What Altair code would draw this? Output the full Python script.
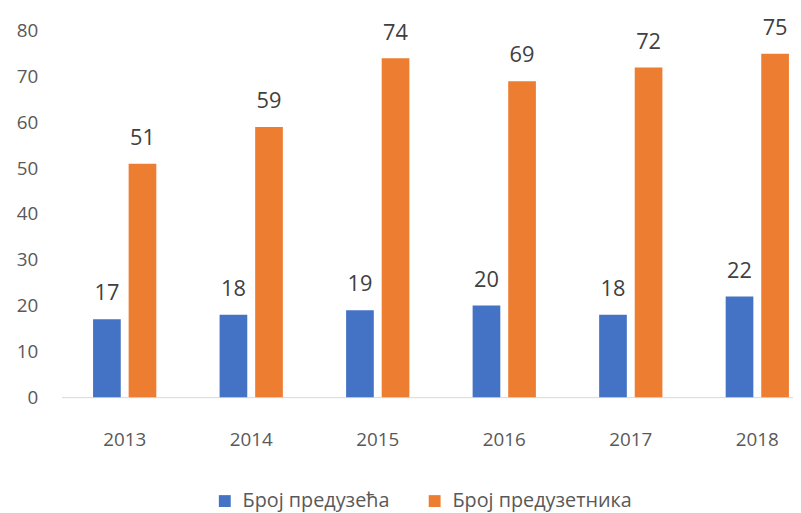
import altair as alt
import pandas as pd

years = ["2013", "2014", "2015", "2016", "2017", "2018"]
series_names = ["Број предузећа", "Број предузетника"]
firms = [17, 18, 19, 20, 18, 22]
entrepreneurs = [51, 59, 74, 69, 72, 75]
colors = ["#4472C4", "#ED7D31"]

rows = []
for i, y in enumerate(years):
    rows.append({"year": y, "series": series_names[0], "value": firms[i]})
    rows.append({"year": y, "series": series_names[1], "value": entrepreneurs[i]})
df = pd.DataFrame(rows)

FONT = "Open Sans"

base = alt.Chart(df).encode(
    x=alt.X(
        "year:N",
        sort=years,
        title=None,
        scale=alt.Scale(paddingInner=0.5, paddingOuter=0.141, align=0.886),
        axis=alt.Axis(
            labelAngle=0,
            ticks=False,
            domain=True,
            domainColor="#d9d9d9",
            domainWidth=1,
            grid=False,
            labelPadding=34,
            labelFont=FONT,
            labelFontSize=19,
            labelColor="#595959",
        ),
    ),
    xOffset=alt.XOffset(
        "series:N",
        sort=series_names,
        scale=alt.Scale(paddingInner=0.222, paddingOuter=0),
    ),
    y=alt.Y(
        "value:Q",
        title=None,
        scale=alt.Scale(domain=[0, 80], nice=False),
        axis=alt.Axis(
            values=list(range(0, 81, 10)),
            domain=False,
            ticks=False,
            grid=False,
            labelPadding=24,
            labelFont=FONT,
            labelFontSize=19,
            labelColor="#595959",
        ),
    ),
)

bars = base.mark_bar().encode(
    color=alt.Color(
        "series:N",
        sort=series_names,
        scale=alt.Scale(domain=series_names, range=colors),
        legend=alt.Legend(
            title=None,
            orient="none",
            direction="horizontal",
            legendX=155,
            legendY=465,
            symbolType="square",
            symbolSize=144,
            symbolStrokeWidth=0,
            symbolOpacity=1,
            columnPadding=35,
            labelOffset=8,
            labelLimit=0,
            labelFont=FONT,
            labelFontSize=20,
            labelColor="#595959",
        ),
    )
)

labels = base.mark_text(
    dy=-19,
    baseline="alphabetic",
    font=FONT,
    fontSize=22,
    color="#404040",
).encode(text="value:Q")

chart = (
    alt.layer(bars, labels)
    .properties(
        width=739,
        height=370,
        padding={"left": 54, "top": 20.5, "right": 0, "bottom": 120},
        autosize=alt.AutoSizeParams(type="none"),
    )
    .configure_view(stroke=None)
)

chart.save("out.html", embed_options={"renderer": "svg", "actions": False})
